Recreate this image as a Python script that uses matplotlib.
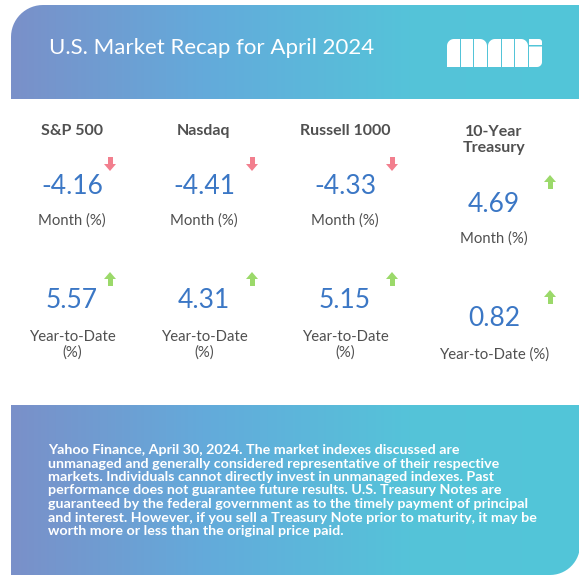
import matplotlib
matplotlib.use("Agg")
import matplotlib.pyplot as plt
import numpy as np
from matplotlib.path import Path
from matplotlib.patches import PathPatch, Polygon, Rectangle
from matplotlib.colors import LinearSegmentedColormap

# data
title = "U.S. Market Recap for April 2024"
names = ["S&P 500", "Nasdaq", "Russell 1000", "10-Year\nTreasury"]
month = [-4.16, -4.41, -4.33, 4.69]
ytd = [5.57, 4.31, 5.15, 0.82]
month_label = "Month (%)"
ytd_labels = ["Year-to-Date\n(%)", "Year-to-Date\n(%)", "Year-to-Date\n(%)", "Year-to-Date (%)"]
note = ("Yahoo Finance, April 30, 2024. The market indexes discussed are\n"
        "unmanaged and generally considered representative of their respective\n"
        "markets. Individuals cannot directly invest in unmanaged indexes. Past\n"
        "performance does not guarantee future results. U.S. Treasury Notes are\n"
        "guaranteed by the federal government as to the timely payment of principal\n"
        "and interest. However, if you sell a Treasury Note prior to maturity, it may be\n"
        "worth more or less than the original price paid.")

W, H = 579, 583
plt.rcParams['font.family'] = ['Lato', 'DejaVu Sans']
fig = plt.figure(figsize=(W / 100, H / 100), dpi=100)
ax = fig.add_axes([0, 0, 1, 1])
ax.set_xlim(0, W)
ax.set_ylim(H, 0)
ax.axis("off")

grad = LinearSegmentedColormap.from_list(
    "g", [(0, "#7a90c9"), (0.35, "#63abdb"), (0.7, "#55c3d9"), (1, "#52c6d8")])


def round_rect(x0, y0, x1, y1, tl=0, tr=0, br=0, bl=0):
    # polygon of a rectangle with its own radius per corner (y grows downwards)
    t = np.linspace(0, np.pi / 2, 16)
    pts = []
    pts += list(zip(x0 + tl - tl * np.cos(t), y0 + tl - tl * np.sin(t)))
    pts += list(zip(x1 - tr + tr * np.sin(t), y0 + tr - tr * np.cos(t)))
    pts += list(zip(x1 - br + br * np.cos(t), y1 - br + br * np.sin(t)))
    pts += list(zip(x0 + bl - bl * np.sin(t), y1 - bl + bl * np.cos(t)))
    pts.append(pts[0])
    return Path(np.array(pts))


def gradient_box(path, x0, y0, x1, y1):
    patch = PathPatch(path, fc="none", ec="none")
    ax.add_patch(patch)
    im = ax.imshow(np.linspace(0, 1, 256)[None, :], cmap=grad, aspect="auto",
                   extent=[x0, x1, y1, y0], interpolation="bilinear")
    im.set_clip_path(patch)


gradient_box(round_rect(11, 5, W + 1, 99, tl=32), 11, 5, W + 1, 99)
gradient_box(round_rect(11, 405, W + 1, 575, br=30), 11, 405, W + 1, 575)

ax.text(49, 48, title, color="white", fontsize=16, va="center", ha="left")

# logo: block letters "mmi"
for x in [447, 488]:
    bars = [(x, x + 13), (x + 14, x + 26), (x + 27, x + 40)]
    for j, (a, b) in enumerate(bars):
        ax.add_patch(PathPatch(round_rect(a, 39, b, 67, tl=7 if j == 0 else 0,
                                          tr=7 if j == 2 else 0),
                               fc="white", ec="none"))
ax.add_patch(PathPatch(round_rect(529, 39, 542, 45, tr=3), fc="white", ec="none"))
ax.add_patch(PathPatch(round_rect(529, 46.5, 542, 67, br=5), fc="white", ec="none"))

# columns
cols = [72, 204, 345, 494]
arrow_x = [110, 252, 392, 550]
head_y = [131, 131, 131, 131]
month_y = [187, 187, 187, 205]
month_arrow_y = [164, 164, 164, 182]
month_lab_y = [221, 221, 221, 239]
ytd_y = [300, 300, 301, 319]
ytd_arrow_y = [279, 279, 279, 297]
ytd_lab_y = [345, 345, 345, 355]

blue = "#3b77c5"
gray = "#505050"


def arrow(x, y, up):
    col = "#9bd96a" if up else "#f27f8e"
    s = -1 if up else 1
    # stem then head, arrow 12 px wide, 14 px tall
    ax.add_patch(Rectangle((x - 2.5, y - s * 7), 5, s * 8, fc=col, ec="none"))
    ax.add_patch(Polygon([[x - 6, y], [x + 6, y], [x, y + s * 7]],
                         closed=True, fc=col, ec="none"))


for i in range(4):
    if "\n" in names[i]:
        ax.text(cols[i], 140, names[i], ha="center", va="center", fontsize=11.5,
                fontweight="bold", color=gray, linespacing=1.1)
    else:
        ax.text(cols[i], head_y[i], names[i], ha="center", va="center",
                fontsize=11.5, fontweight="bold", color=gray)
    ax.text(cols[i], month_y[i], f"{month[i]:.2f}", ha="center", va="center",
            fontsize=19, color=blue)
    arrow(arrow_x[i], month_arrow_y[i], month[i] > 0)
    ax.text(cols[i], month_lab_y[i], month_label, ha="center", va="center",
            fontsize=10.7, color=gray)
    ax.text(cols[i], ytd_y[i], f"{ytd[i]:.2f}", ha="center", va="center",
            fontsize=19, color=blue)
    arrow(arrow_x[i], ytd_arrow_y[i], ytd[i] > 0)
    ax.text(cols[i], ytd_lab_y[i], ytd_labels[i], ha="center", va="center",
            fontsize=10.7, color=gray, linespacing=1.1)

ax.text(48, 490.5, note, color="white", fontsize=10.3, fontweight="bold",
        va="center", ha="left", linespacing=1.15)

fig.savefig("out.png", dpi=100)
